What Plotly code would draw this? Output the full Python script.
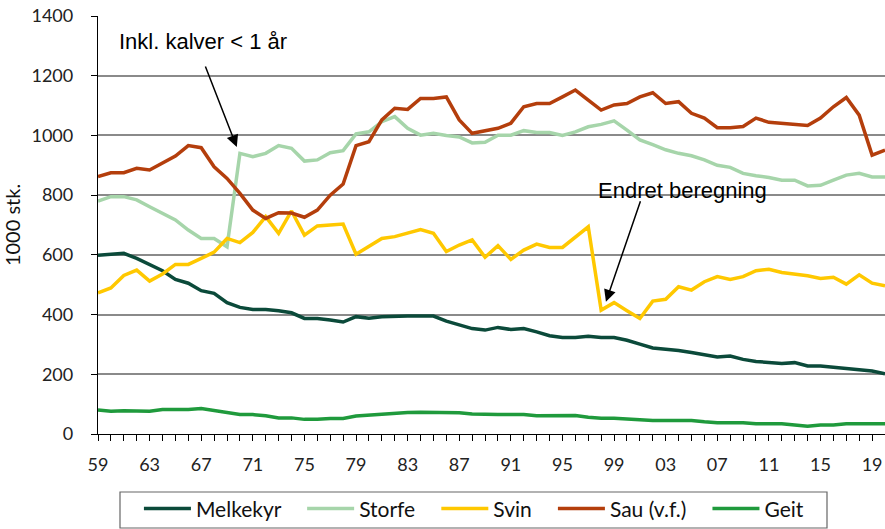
import plotly.graph_objects as go

years = list(range(1959, 2021))

melkekyr = [599, 602, 605, 588, 569, 547, 518, 505, 480, 471, 440,
            424, 417, 417, 413, 406, 387, 387, 382, 375, 393,
            388, 393, 395, 395, 395, 395, 378, 364, 353, 348,
            357, 350, 353, 342, 329, 323, 323, 327, 323, 323,
            314, 301, 288, 284, 280, 273, 266, 258, 261, 250,
            243, 239, 236, 239, 228, 228, 223, 219, 215, 211, 202]

storfe = [780, 795, 795, 784, 761, 739, 717, 683, 655, 655, 627,
          940, 929, 940, 966, 957, 914, 918, 942, 949, 1005,
          1012, 1046, 1063, 1024, 1001, 1007, 1000, 995, 975, 977,
          1001, 1001, 1016, 1010, 1010, 1000, 1012, 1029, 1037, 1049,
          1018, 985, 969, 952, 940, 932, 918, 900, 893, 873,
          865, 859, 850, 850, 831, 833, 850, 867, 873, 861, 861]

svin = [473, 489, 531, 549, 512, 536, 568, 568, 588, 609, 655,
        641, 675, 728, 672, 747, 666, 697, 700, 703, 602,
        627, 655, 661, 672, 685, 672, 611, 633, 650, 592,
        631, 585, 616, 636, 625, 625, 660, 694, 415, 440,
        413, 387, 445, 451, 493, 482, 510, 527, 518, 527,
        547, 552, 541, 535, 530, 521, 525, 502, 533, 505, 496]

sau = [862, 875, 875, 890, 884, 906, 931, 966, 959, 895, 856,
       806, 750, 722, 741, 740, 726, 750, 800, 837, 966,
       979, 1052, 1091, 1087, 1124, 1124, 1129, 1052, 1007, 1015,
       1024, 1041, 1096, 1107, 1107, 1129, 1152, 1118, 1085, 1102,
       1107, 1129, 1143, 1107, 1113, 1074, 1058, 1026, 1026, 1030,
       1058, 1044, 1040, 1037, 1033, 1058, 1096, 1127, 1068, 934, 951]

geit = [80, 76, 78, 76, 76, 82, 82, 82, 85, 78, 71,
        65, 65, 61, 54, 54, 49, 49, 52, 52, 60,
        63, 67, 69, 72, 73, 73, 72, 71, 67, 65,
        65, 65, 65, 61, 61, 62, 62, 56, 53, 53,
        50, 47, 45, 45, 45, 45, 41, 38, 38, 38,
        34, 34, 34, 30, 26, 30, 30, 34, 34, 34, 34]

series_names = ["Melkekyr", "Storfe", "Svin", "Sau (v.f.)", "Geit"]
series_values = [melkekyr, storfe, svin, sau, geit]
series_colors = ["#0B4A3A", "#A6D5AA", "#FFC800", "#B43E0C", "#1F9A3C"]

tick_years = list(range(1959, 2021, 4))
tick_labels = [f"{y % 100:02d}" for y in tick_years]

y_ticks = [0, 200, 400, 600, 800, 1000, 1200, 1400]

fig = go.Figure()
pad = "\u00a0\u00a0\u00a0"
for name, vals, col in zip(series_names, series_values, series_colors):
    fig.add_trace(go.Scatter(x=years, y=vals, mode="lines", name=name + pad,
                             line=dict(color=col, width=3.5)))

tick_font = dict(family="Lato, Open Sans, sans-serif", size=18, color="#222222")
ann_font = dict(family="Liberation Sans, Arial, sans-serif", size=22, color="#000000")

fig.update_layout(
    width=885, height=529,
    margin=dict(l=98, r=0, t=16, b=95, autoexpand=False),
    plot_bgcolor="white", paper_bgcolor="white",
    showlegend=True,
    legend=dict(orientation="h", x=0.052, y=-0.13, xanchor="left", yanchor="top",
                borderwidth=0, bgcolor="rgba(0,0,0,0)",
                font=dict(family="Lato, Open Sans, sans-serif", size=21, color="#111111"),
                itemwidth=47, tracegroupgap=0),
    xaxis=dict(range=[1959, 2020], tickmode="array", tickvals=tick_years,
               ticktext=tick_labels, ticks="outside", ticklen=6, tickcolor="#000",
               showline=True, linecolor="#000", linewidth=1.3, automargin=False,
               showgrid=False, zeroline=False, tickfont=tick_font,
               ticklabelstandoff=8,
               minor=dict(dtick=1, tick0=1959, ticks="outside", ticklen=6,
                          tickcolor="#000", showgrid=False)),
    yaxis=dict(range=[0, 1400], tickvals=y_ticks, ticks="outside", ticklen=6,
               tickcolor="#000", showline=True, linecolor="#000", linewidth=1.3,
               showgrid=True, gridcolor="#8a8a8a", gridwidth=1.5, automargin=False,
               zeroline=False, tickfont=tick_font, ticklabelstandoff=14,
               title=dict(text="1000 stk.", font=dict(family="Lato, Open Sans, sans-serif",
                                                      size=20, color="#111111"),
                          standoff=10)),
)

# legend frame
fig.add_shape(type="rect", xref="paper", yref="paper",
              x0=0.02795, x1=0.9263, y0=-0.2249, y1=-0.1388,
              line=dict(color="#666666", width=1.2), fillcolor="rgba(0,0,0,0)")

fig.add_annotation(x=1960.45, y=1313, xref="x", yref="y", text="Inkl. kalver < 1 år",
                   showarrow=False, xanchor="left", yanchor="middle", font=ann_font)
fig.add_annotation(x=1969.76, y=961, xref="x", yref="y", text="", showarrow=True,
                   ax=-32, ay=-82, arrowhead=2, arrowsize=1.6, arrowwidth=1.5,
                   arrowcolor="#000")
fig.add_annotation(x=2004.28, y=814, xref="x", yref="y", text="Endret beregning",
                   showarrow=False, xanchor="center", yanchor="middle", font=ann_font)
fig.add_annotation(x=1998.37, y=443, xref="x", yref="y", text="", showarrow=True,
                   ax=35, ay=-102, arrowhead=2, arrowsize=1.6, arrowwidth=1.5,
                   arrowcolor="#000")

fig.write_html("out.html", config={"displayModeBar": False},
               post_script="document.body.style.margin='0px';document.body.style.overflow='hidden';")
